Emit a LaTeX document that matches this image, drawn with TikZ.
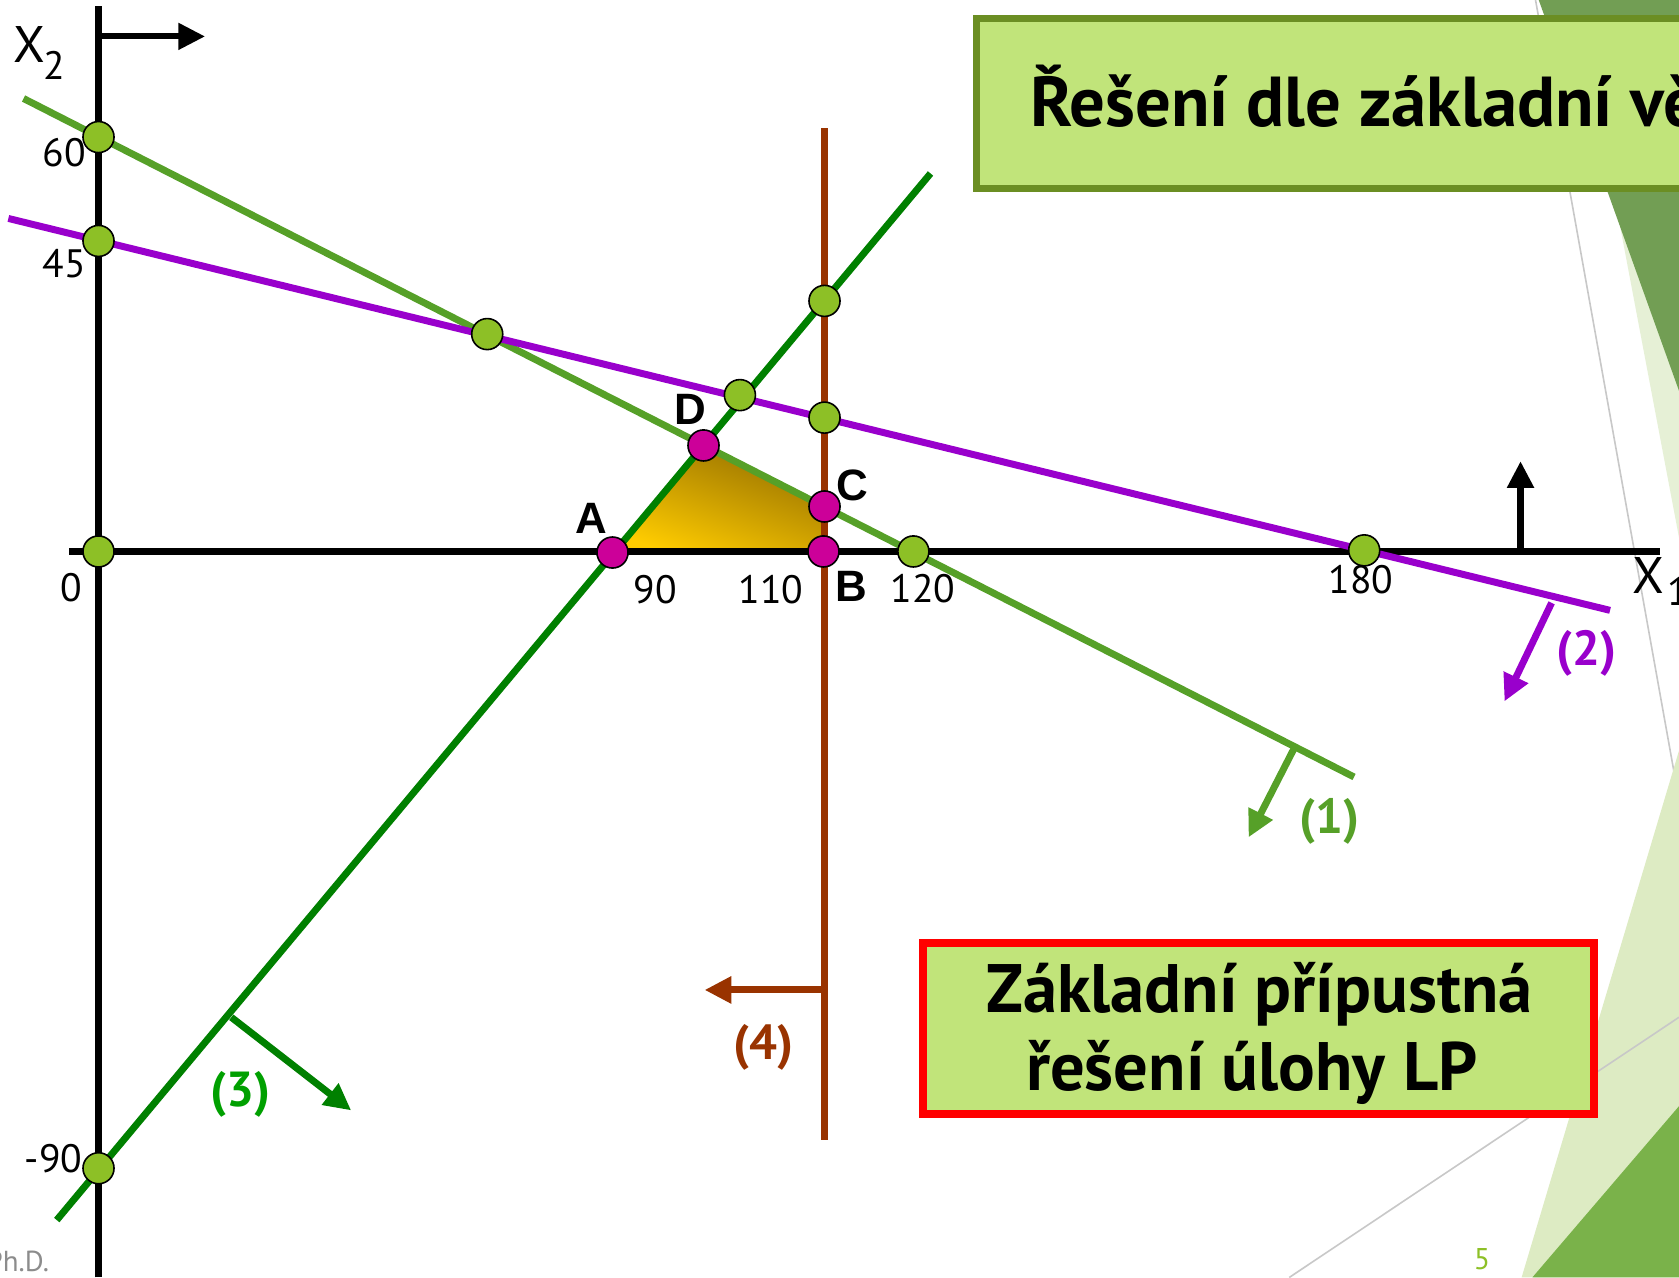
\documentclass[tikz,border=0pt]{standalone}
\usepackage{fontspec}
\setmainfont{PT Sans}
\newfontfamily\arialf{Liberation Sans}
\usetikzlibrary{arrows.meta}
\definecolor{cOne}{RGB}{86,160,40}
\definecolor{cTwo}{RGB}{153,0,204}
\definecolor{cThree}{RGB}{0,128,0}
\definecolor{cThreeL}{RGB}{0,160,0}
\definecolor{cFour}{RGB}{153,51,0}
\definecolor{ptGreen}{RGB}{141,192,38}
\definecolor{ptMag}{RGB}{204,0,153}
\definecolor{boxFill}{RGB}{193,228,122}
\definecolor{boxEdge}{RGB}{107,142,35}
\definecolor{goldL}{RGB}{255,204,0}
\definecolor{goldD}{RGB}{150,112,0}
\definecolor{bgDark}{RGB}{114,158,84}
\definecolor{bgLight}{RGB}{221,235,195}
\definecolor{bgLightB}{RGB}{230,240,214}
\definecolor{bgMid}{RGB}{122,178,74}
\definecolor{gLine}{RGB}{200,200,200}
\definecolor{footGray}{RGB}{140,140,140}
\definecolor{numGreen}{RGB}{141,192,38}
\begin{document}
\begin{tikzpicture}[x=1pt,y=-1pt,
  axisline/.style={line width=6.5pt, black},
  cline/.style={line width=6.5pt},
  tipped/.style={-{Triangle[length=25pt,width=24pt]}},
  gpt/.style={circle, draw=black, line width=1.5pt, fill=ptGreen, minimum size=29pt, inner sep=0pt},
  mpt/.style={gpt, fill=ptMag},
  num/.style={font=\fontsize{37}{40}\selectfont, inner sep=0pt},
  ptlab/.style={font=\arialf\bfseries\fontsize{41}{44}\selectfont, inner sep=0pt},
  clab/.style={font=\bfseries\fontsize{46}{50}\selectfont, inner sep=0pt},
  bigtext/.style={font=\bfseries\fontsize{64}{72}\selectfont, inner sep=0pt, anchor=base},
]
\useasboundingbox (0,0) rectangle (1568,1193);
% background
\fill[white] (0,0) rectangle (1568,1193);
\fill[bgLightB] (1473,0) -- (1568,0) -- (1568,502) -- cycle;
\fill[bgDark] (1437,0) -- (1568,0) -- (1568,365) -- cycle;
\draw[gLine, line width=1.5pt] (1434,0) -- (1568,747);
\fill[bgLight] (1568,701) -- (1421,1193) -- (1568,1193) -- cycle;
\fill[bgMid] (1568,1033) -- (1431,1193) -- (1568,1193) -- cycle;
\draw[gLine, line width=1.5pt] (1204,1193) -- (1568,950);

% coordinates
\coordinate (cA) at (572,516);
\coordinate (cB) at (769,515);
\coordinate (cC) at (770,473);
\coordinate (cD) at (657,416);
\coordinate (yBot) at (92,1193);
\coordinate (yTop) at (92,6);
\coordinate (yArr) at (92,34);
\coordinate (yArrE) at (191.5,34);
\coordinate (xL) at (64.5,515);
\coordinate (xR) at (1550,515);
\coordinate (upS) at (1420,515);
\coordinate (upE) at (1420,430.7);
\coordinate (l1s) at (22,92);
\coordinate (l1e) at (1264.5,725.6);
\coordinate (l2s) at (7.8,204);
\coordinate (l2e) at (1503.6,570);
\coordinate (l3s) at (53,1139.4);
\coordinate (l3e) at (869,162);
\coordinate (l4s) at (770,120);
\coordinate (l4e) at (770,1065);
\coordinate (a1s) at (1209,698);
\coordinate (a1e) at (1166,782);
\coordinate (a2s) at (1449,563);
\coordinate (a2e) at (1405,655);
\coordinate (a3s) at (216,950);
\coordinate (a3e) at (328,1037);
\coordinate (a4s) at (770,924.5);
\coordinate (a4e) at (658,924.5);

% feasible region
\shade[top color=goldD, bottom color=goldL, shading angle=-20] (cA) -- (cD) -- (cC) -- (cB) -- cycle;

% axes
\draw[axisline] (yBot) -- (yTop);
\draw[axisline] (xL) -- (xR);
\draw[line width=5.5pt, tipped] (yArr) -- (yArrE);
\draw[line width=6pt, tipped] (upS) -- (upE);

% constraint lines
\draw[cline, cOne] (l1s) -- (l1e);
\draw[cline, cTwo] (l2s) -- (l2e);
\draw[cline, cThree] (l3s) -- (l3e);
\draw[cline, cFour] (l4s) -- (l4e);

% direction arrows
\draw[cline, cOne, tipped] (a1s) -- (a1e);
\draw[cline, cTwo, tipped] (a2s) -- (a2e);
\draw[cline, cThree, tipped] (a3s) -- (a3e);
\draw[cline, cFour, tipped] (a4s) -- (a4e);

% points
\node[gpt] (p60) at (92,128) {};
\node[gpt] (p45) at (92,225) {};
\node[gpt] (p0) at (92,515) {};
\node[gpt] (pm90) at (92,1091) {};
\node[gpt] (pE) at (455,312) {};
\node[gpt] (pF) at (691,369) {};
\node[gpt] (pG) at (770,281) {};
\node[gpt] (pH) at (770,390) {};
\node[gpt] (p120) at (853,515) {};
\node[gpt] (p180) at (1274,514) {};
\node[mpt] (A) at (cA) {};
\node[mpt] (B) at (cB) {};
\node[mpt] (C) at (cC) {};
\node[mpt] (D) at (cD) {};

% axis labels
\node[font=\fontsize{48}{50}\selectfont, inner sep=0pt] (x2X) at (27,42) {X};
\node[num] (x2s) at (51,61) {2};
\node[font=\fontsize{48}{50}\selectfont, inner sep=0pt] (x1X) at (1539,537) {X};
\node[num] (x1s) at (1567,552) {1};
\node[num] (t60) at (60,143) {60};
\node[num] (t45) at (60,246) {45};
\node[num] (t0) at (67,549) {0};
\node[num] (tm90) at (50,1082) {-90};
\node[num] (t90) at (612,551) {90};
\node[num] (t110) at (720,551) {110};
\node[num] (t120) at (862,550) {120};
\node[num] (t180) at (1271,541) {180};

% point labels
\node[ptlab] (lA) at (552.6,484) {A};
\node[ptlab] (lB) at (795.4,548) {B};
\node[ptlab] (lC) at (796,453) {C};
\node[ptlab] (lD) at (644.4,382) {D};

% constraint labels
\node[clab, text=cOne] (k1) at (1242,767) {(1)};
\node[clab, text=cTwo] (k2) at (1482,610) {(2)};
\node[clab, text=cThreeL] (k3) at (225,1022) {(3)};
\node[clab, text=cFour] (k4) at (713,978) {(4)};

% title box
\draw[boxEdge, fill=boxFill, line width=6.5pt] (912,17.5) rectangle (1620,175.7);
\node[font=\bfseries\fontsize{66}{72}\selectfont, anchor=base west, inner sep=0pt] (title) at (962,118) {Řešení dle základní vě};

% result box
\node[draw=red, fill=boxFill, line width=7.5pt, minimum width=627.5pt, minimum height=159pt, inner sep=0pt] (res) at (1175.3,960.5) {};
\node[bigtext] (res1) at (1176,946) {Základní přípustná};
\node[bigtext] (res2) at (1169,1018) {řešení úlohy LP};

% footer
\node[font=\fontsize{27}{30}\selectfont, text=footGray, anchor=east, inner sep=0pt] (foot) at (46,1178) {Ph.D.};
\node[font=\fontsize{28}{30}\selectfont, text=numGreen, inner sep=0pt] (pgnum) at (1384,1176) {5};
\end{tikzpicture}
\end{document}
